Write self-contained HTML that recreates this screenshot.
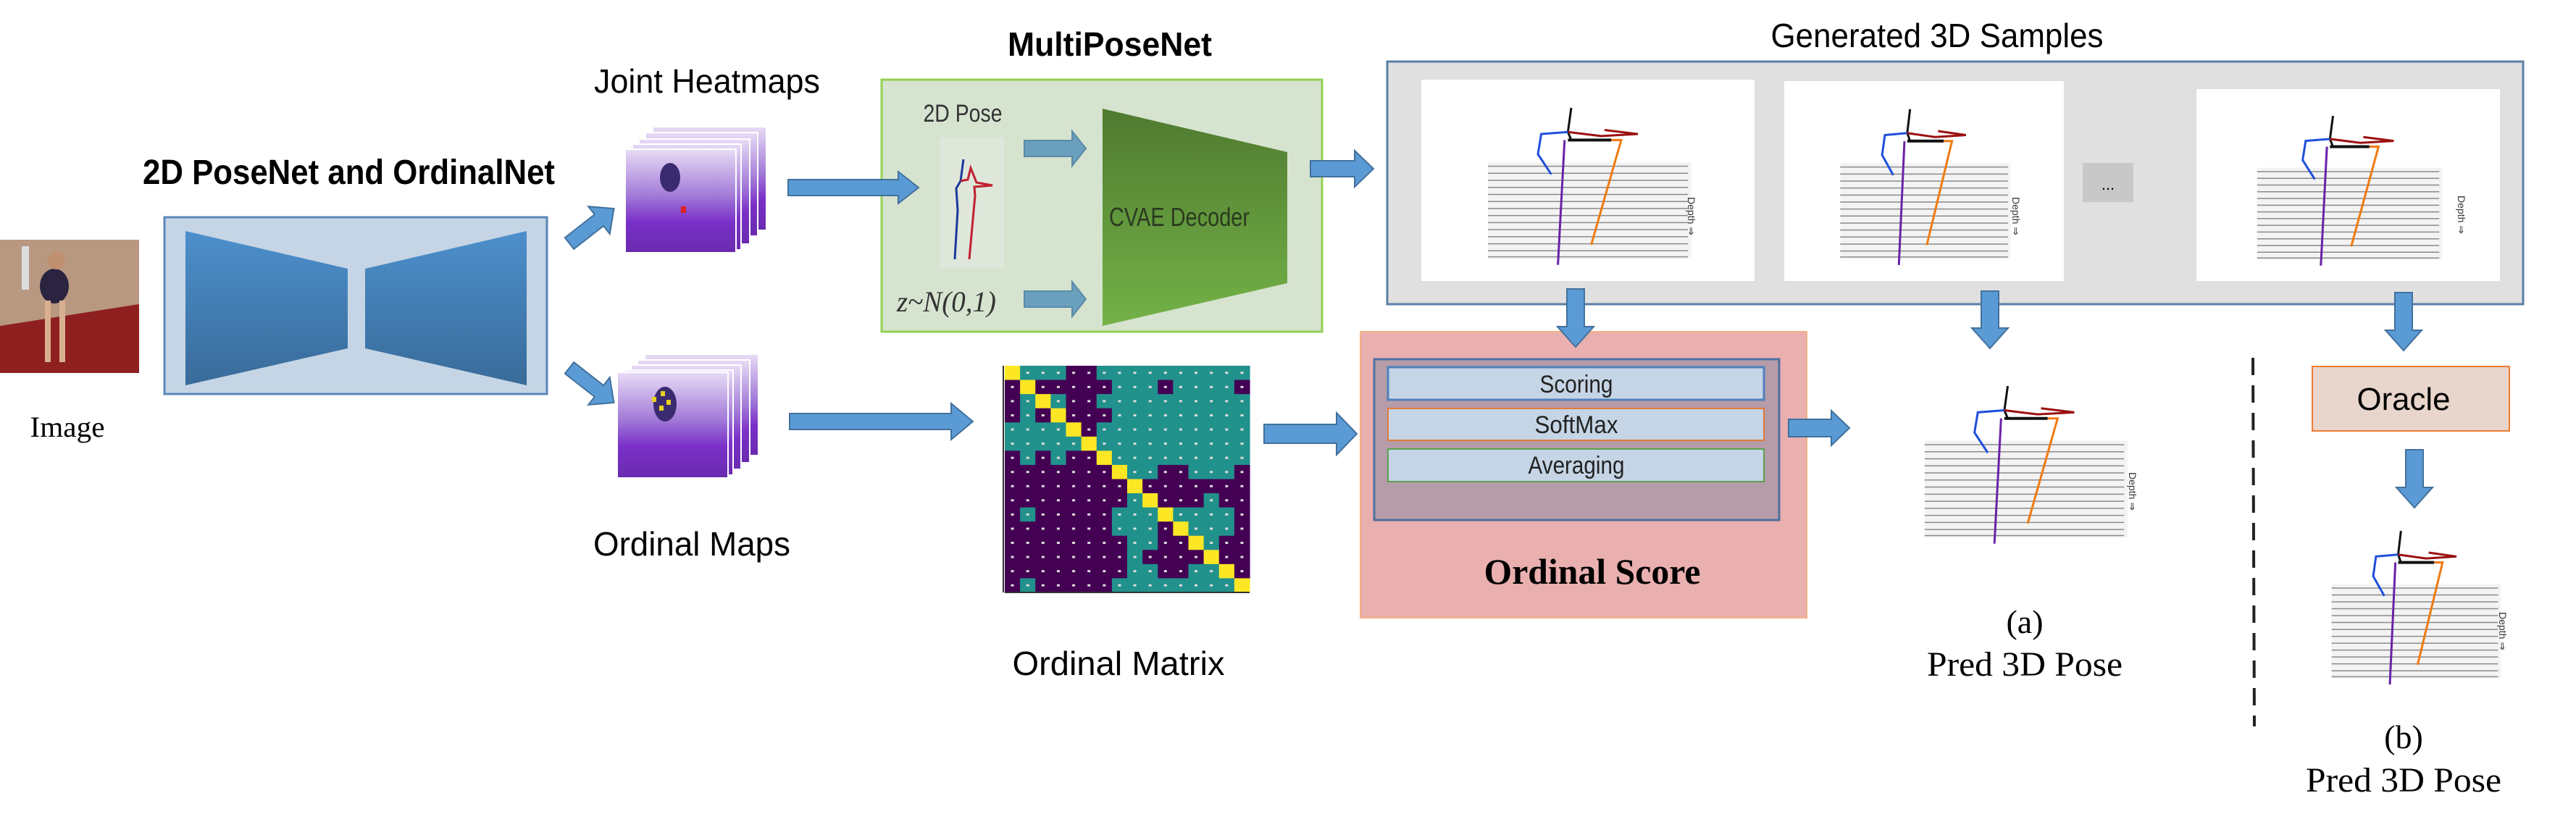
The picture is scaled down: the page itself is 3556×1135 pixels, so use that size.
<!DOCTYPE html>
<html><head><meta charset="utf-8"><style>
html,body{margin:0;padding:0;background:#fff;width:3556px;height:1135px;overflow:hidden}
svg{display:block}
.cal{font-family:"Liberation Sans Narrow","Liberation Sans",sans-serif}
.ser{font-family:"Liberation Serif",serif}
</style></head><body>
<svg width="3556" height="1135" viewBox="0 0 3556 1135" xmlns="http://www.w3.org/2000/svg">
<defs>
<linearGradient id="tg" x1="0" y1="0" x2="0" y2="1"><stop offset="0" stop-color="#4d8fcc"/><stop offset="1" stop-color="#386b99"/></linearGradient>
<linearGradient id="gg" x1="0" y1="0" x2="0" y2="1"><stop offset="0" stop-color="#4f7a30"/><stop offset="1" stop-color="#74b247"/></linearGradient>
<linearGradient id="hm" x1="0" y1="0" x2="0" y2="1"><stop offset="0" stop-color="#e8dcf5"/><stop offset="0.45" stop-color="#a27ad8"/><stop offset="0.7" stop-color="#7a30c8"/><stop offset="1" stop-color="#6a2ab0"/></linearGradient>
<symbol id="pose" viewBox="0 0 100 100" preserveAspectRatio="none">
<rect x="0" y="0" width="100" height="100" fill="#fff"/>
<rect x="20" y="41" width="61" height="48" fill="#f3f3f3"/>
<g stroke="#8a8a8a" stroke-width="1.5">
<line x1="20" y1="43" x2="80" y2="43" vector-effect="non-scaling-stroke"/><line x1="20" y1="46.5" x2="80" y2="46.5" vector-effect="non-scaling-stroke"/><line x1="20" y1="50" x2="80" y2="50" vector-effect="non-scaling-stroke"/><line x1="20" y1="53.5" x2="80" y2="53.5" vector-effect="non-scaling-stroke"/><line x1="20" y1="57" x2="80" y2="57" vector-effect="non-scaling-stroke"/><line x1="20" y1="60.5" x2="80" y2="60.5" vector-effect="non-scaling-stroke"/><line x1="20" y1="64" x2="80" y2="64" vector-effect="non-scaling-stroke"/><line x1="20" y1="67.5" x2="80" y2="67.5" vector-effect="non-scaling-stroke"/><line x1="20" y1="71" x2="80" y2="71" vector-effect="non-scaling-stroke"/><line x1="20" y1="74.5" x2="80" y2="74.5" vector-effect="non-scaling-stroke"/><line x1="20" y1="78" x2="80" y2="78" vector-effect="non-scaling-stroke"/><line x1="20" y1="81.5" x2="80" y2="81.5" vector-effect="non-scaling-stroke"/><line x1="20" y1="85" x2="80" y2="85" vector-effect="non-scaling-stroke"/><line x1="20" y1="88" x2="80" y2="88" vector-effect="non-scaling-stroke"/>
</g>
<g fill="none">
<polyline points="45,14 44,26 45,30" stroke="#111" stroke-width="3" vector-effect="non-scaling-stroke"/>
<polyline points="44,30 57,30" stroke="#111" stroke-width="4" vector-effect="non-scaling-stroke"/>
<polyline points="44,26 36,27 35,37 39,47" stroke="#1f4fdc" stroke-width="3" vector-effect="non-scaling-stroke"/>
<polyline points="44,26 54,28 65,27 55,25" stroke="#9b1010" stroke-width="3" vector-effect="non-scaling-stroke"/>
<polyline points="57,30 60,30 51,82" stroke="#f07a10" stroke-width="3" vector-effect="non-scaling-stroke"/>
<polyline points="43,30 41,92" stroke="#6a22a8" stroke-width="3" vector-effect="non-scaling-stroke"/>
</g>
</symbol>
</defs>

<rect x="0" y="331" width="192" height="184" fill="#b89880"/>
<polygon points="0,450 192,420 192,515 0,515" fill="#8e2020"/>
<rect x="30" y="340" width="10" height="60" fill="#ddd"/>
<ellipse cx="75" cy="395" rx="20" ry="24" fill="#2a2440"/>
<circle cx="78" cy="360" r="12" fill="#c09070"/>
<rect x="62" y="415" width="8" height="85" fill="#d8b090"/><rect x="82" y="415" width="8" height="85" fill="#d8b090"/>
<text x="93" y="603" class="ser" font-size="40" text-anchor="middle" textLength="103" lengthAdjust="spacingAndGlyphs">Image</text>

<text x="197" y="254" class="cal" font-size="48" font-weight="bold" textLength="569" lengthAdjust="spacingAndGlyphs">2D PoseNet and OrdinalNet</text>
<rect x="227" y="300" width="528" height="244" fill="#c5d5e5" stroke="#5b86b8" stroke-width="3"/>
<polygon points="256,319 480,371 480,481 256,532" fill="url(#tg)"/>
<polygon points="504,371 727,319 727,532 504,481" fill="url(#tg)"/>

<g stroke="#fff" stroke-width="2">
<rect x="901" y="175" width="157" height="143" fill="url(#hm)"/>
<rect x="891" y="183" width="155" height="143" fill="url(#hm)"/>
<rect x="882" y="192" width="153" height="145" fill="url(#hm)"/>
<rect x="873" y="199" width="150" height="146" fill="url(#hm)"/>
<rect x="863" y="206" width="153" height="143" fill="url(#hm)"/>
<rect x="890" y="489" width="157" height="140" fill="url(#hm)"/>
<rect x="880" y="497" width="155" height="142" fill="url(#hm)"/>
<rect x="871" y="504" width="152" height="144" fill="url(#hm)"/>
<rect x="862" y="511" width="150" height="145" fill="url(#hm)"/>
<rect x="852" y="514" width="153" height="146" fill="url(#hm)"/>
</g>
<ellipse cx="925" cy="245" rx="14" ry="20" fill="#3a2a70"/>
<rect x="940" y="285" width="7" height="9" fill="#e02020"/>
<ellipse cx="918" cy="558" rx="16" ry="24" fill="#3a2a70"/>
<g fill="#e8d020"><rect x="900" y="548" width="6" height="7"/><rect x="912" y="540" width="6" height="7"/><rect x="920" y="552" width="6" height="7"/><rect x="910" y="560" width="6" height="7"/></g>
<text x="976" y="128" class="cal" font-size="46" text-anchor="middle" textLength="312" lengthAdjust="spacingAndGlyphs">Joint Heatmaps</text>
<text x="955" y="767" class="cal" font-size="46" text-anchor="middle" textLength="272" lengthAdjust="spacingAndGlyphs">Ordinal Maps</text>

<text x="1532" y="77" class="cal" font-size="46" font-weight="bold" text-anchor="middle" textLength="282" lengthAdjust="spacingAndGlyphs">MultiPoseNet</text>
<rect x="1217" y="110" width="608" height="348" fill="#d6e3cf" stroke="#92d050" stroke-width="3"/>
<text x="1329" y="168" class="cal" font-size="34" text-anchor="middle" fill="#333" textLength="109" lengthAdjust="spacingAndGlyphs">2D Pose</text>
<rect x="1297" y="190" width="89" height="181" fill="#dfe6da"/>
<polyline points="1330,220 1326,250 1320,260 1322,290 1318,358" fill="none" stroke="#1a3a9a" stroke-width="3"/>
<polyline points="1326,250 1336,248 1340,232 1348,252 1370,256 1345,258 1346,270 1338,358" fill="none" stroke="#c02030" stroke-width="3"/>
<text x="1238" y="430" class="ser" font-size="40" font-style="italic" fill="#333" textLength="137" lengthAdjust="spacingAndGlyphs">z~N(0,1)</text>
<g fill="#6aa0be" stroke="#5a8aa8" stroke-width="2">
<polygon points="1414,194 1480,194 1480,181 1499,205 1480,229 1480,216 1414,216"/>
<polygon points="1414,402 1480,402 1480,389 1499,413 1480,437 1480,424 1414,424"/>
</g>
<polygon points="1522,150 1777,210 1777,391 1522,450" fill="url(#gg)"/>
<text x="1628" y="312" class="cal" font-size="36" text-anchor="middle" fill="#2a3a20" textLength="194" lengthAdjust="spacingAndGlyphs">CVAE Decoder</text>

<g id="mat"></g>
<line x1="1387" y1="818" x2="1725" y2="818" stroke="#333" stroke-width="2"/>
<line x1="1385" y1="505" x2="1385" y2="818" stroke="#333" stroke-width="2"/>
<text x="1544" y="932" class="cal" font-size="46" text-anchor="middle" textLength="293" lengthAdjust="spacingAndGlyphs">Ordinal Matrix</text>

<text x="2674" y="65" class="cal" font-size="46" text-anchor="middle" textLength="459" lengthAdjust="spacingAndGlyphs">Generated 3D Samples</text>
<rect x="1915" y="85" width="1568" height="335" fill="#e0e0e0" stroke="#5b7fa6" stroke-width="3"/>
<use href="#pose" x="1962" y="110" width="460" height="278"/>
<use href="#pose" x="2463" y="112" width="386" height="276"/>
<use href="#pose" x="3032" y="123" width="419" height="265"/>
<rect x="2875" y="225" width="70" height="54" fill="#c8c8c8"/>
<text x="2910" y="262" font-family="Liberation Sans,sans-serif" font-size="22" text-anchor="middle">...</text>

<rect x="1878" y="458" width="616" height="395" fill="#eaafaf" stroke="#f4b183" stroke-width="2"/>
<rect x="1897" y="496" width="559" height="222" fill="#b69ca8" stroke="#4f6fa0" stroke-width="3"/>
<rect x="1916" y="507" width="519" height="45" fill="#c5d5e5" stroke="#4f81bd" stroke-width="3"/>
<rect x="1916" y="564" width="519" height="44" fill="#c5d5e5" stroke="#e07a3a" stroke-width="2"/>
<rect x="1916" y="620" width="519" height="45" fill="#c5d5e5" stroke="#5aa050" stroke-width="2"/>
<text x="2176" y="542" class="cal" font-size="34" text-anchor="middle" fill="#222" textLength="101" lengthAdjust="spacingAndGlyphs">Scoring</text>
<text x="2176" y="598" class="cal" font-size="34" text-anchor="middle" fill="#222" textLength="115" lengthAdjust="spacingAndGlyphs">SoftMax</text>
<text x="2176" y="654" class="cal" font-size="34" text-anchor="middle" fill="#222" textLength="133" lengthAdjust="spacingAndGlyphs">Averaging</text>
<text x="2198" y="806" class="ser" font-size="50" font-weight="bold" text-anchor="middle" textLength="299" lengthAdjust="spacingAndGlyphs">Ordinal Score</text>

<use href="#pose" x="2565" y="494" width="459" height="279"/>
<text x="2795" y="874" class="ser" font-size="46" text-anchor="middle">(a)</text>
<text x="2795" y="933" class="ser" font-size="48" text-anchor="middle" textLength="270" lengthAdjust="spacingAndGlyphs">Pred 3D Pose</text>

<line x1="3110" y1="494" x2="3112" y2="1003" stroke="#222" stroke-width="4" stroke-dasharray="24,14"/>

<rect x="3192" y="506" width="272" height="89" fill="#e8d5cc" stroke="#ed7d31" stroke-width="2"/>
<text x="3318" y="566" class="cal" font-size="44" text-anchor="middle" textLength="129" lengthAdjust="spacingAndGlyphs">Oracle</text>

<use href="#pose" x="3142" y="695" width="383" height="272"/>
<text x="3318" y="1033" class="ser" font-size="46" text-anchor="middle">(b)</text>
<text x="3318" y="1093" class="ser" font-size="48" text-anchor="middle" textLength="270" lengthAdjust="spacingAndGlyphs">Pred 3D Pose</text>

<g font-family="Liberation Sans,sans-serif" font-size="14" fill="#333">
<text transform="translate(2330,272) rotate(90)">Depth ⇒</text>
<text transform="translate(2778,272) rotate(90)">Depth ⇒</text>
<text transform="translate(3393,270) rotate(90)">Depth ⇒</text>
<text transform="translate(2939,652) rotate(90)">Depth ⇒</text>
<text transform="translate(3450,845) rotate(90)">Depth ⇒</text>
</g>

<!-- arrows on top -->
<g transform="translate(786,336) rotate(-38)" fill="#5b9bd5" stroke="#41719c" stroke-width="2"><polygon points="0,-10 52,-10 52,-24 78,0 52,24 52,10 0,10"/></g>
<g transform="translate(786,508) rotate(38)" fill="#5b9bd5" stroke="#41719c" stroke-width="2"><polygon points="0,-10 52,-10 52,-24 78,0 52,24 52,10 0,10"/></g>
<g fill="#5b9bd5" stroke="#41719c" stroke-width="2">
<polygon points="1088,248 1240,248 1240,237 1268,259 1240,281 1240,270 1088,270"/>
<polygon points="1090,571 1313,571 1313,557 1343,582 1313,607 1313,593 1090,593"/>
<polygon points="1809,222 1870,222 1870,208 1896,233 1870,258 1870,244 1809,244"/>
<polygon points="1745,586 1845,586 1845,570 1873,599 1845,628 1845,612 1745,612"/>
<polygon points="2469,579 2528,579 2528,567 2553,591 2528,615 2528,603 2469,603"/>
<polygon points="2163,399 2187,399 2187,451 2200,451 2175,479 2150,451 2163,451"/>
<polygon points="2735,402 2759,402 2759,453 2772,453 2747,481 2722,453 2735,453"/>
<polygon points="3306,404 3330,404 3330,456 3343,456 3318,484 3293,456 3306,456"/>
<polygon points="3321,621 3345,621 3345,673 3358,673 3333,701 3308,673 3321,673"/>
</g>
</svg>
<script>
(function(){
var rows=["YTTTPPTTTTTTTTTT","PYPPPPPTTTPTTTTP","PTYTPPTTTTTTTTTT","PTPYPPPTTTTTTTTT","TTTTYPTTTTTTTTTT","TTTTTYTTTTTTTTTT","PTPTPPYTTTTTTTTT","PPPPPPPYTTPPTTTP","PPPPPPPPYPPPPPPP","PPPPPPPPTYPPPTPP","PTPPPPPTTTYTTTTP","PPPPPPPTTTPYTTTP","PPPPPPPPTTPPYTPP","PPPPPPPPTPPPPYPP","PPPPPPPPTTPPTTYP","PTPPPPPTTTTTTTTY"];
var col={Y:"#fde725",T:"#21918c",P:"#440154"};
var g=document.getElementById("mat"),ns="http://www.w3.org/2000/svg";
var x0=1387,y0=505,w=338/16,h=313/16;
for(var i=0;i<16;i++)for(var j=0;j<16;j++){
var c=rows[i][j];
var r=document.createElementNS(ns,"rect");
r.setAttribute("x",x0+j*w);r.setAttribute("y",y0+i*h);r.setAttribute("width",w+0.6);r.setAttribute("height",h+0.6);r.setAttribute("fill",col[c]);g.appendChild(r);
if(c!="Y"){var d=document.createElementNS(ns,"rect");d.setAttribute("x",x0+j*w+w/2-2);d.setAttribute("y",y0+i*h+h/2-1.5);d.setAttribute("width",4);d.setAttribute("height",3);d.setAttribute("fill","#ddd");g.appendChild(d);}
}
})();
</script>
</body></html>
